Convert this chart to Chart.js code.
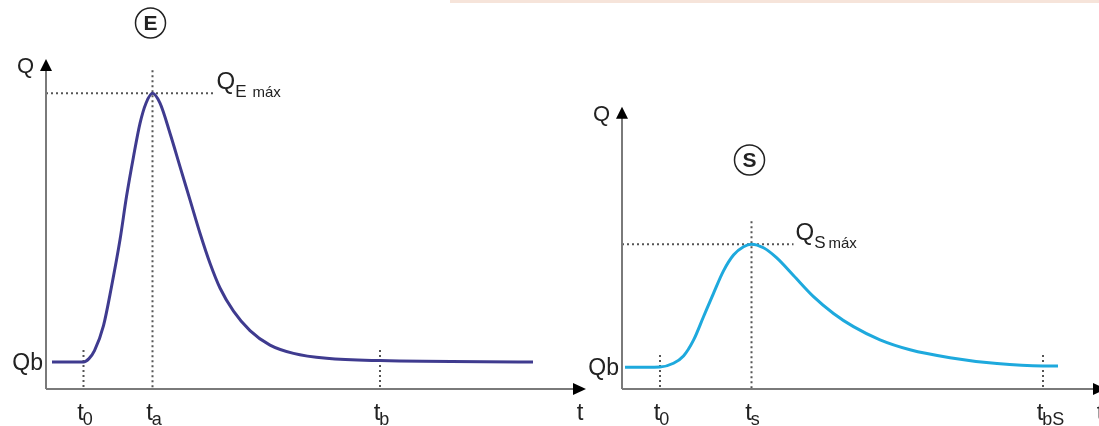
<!DOCTYPE html>
<html>
<head>
<meta charset="utf-8">
<script src="https://cdn.jsdelivr.net/npm/chart.js@4"></script>
<style>
  html, body { margin: 0; padding: 0; background: #fff; overflow: hidden; }
  #wrap { position: relative; width: 1099px; height: 426px; overflow: hidden; }
  #cE { position: absolute; left: 0; top: 0; }
  #cS { position: absolute; left: 560px; top: 0; }
  #band { position: absolute; left: 450px; top: 0; width: 649px; height: 3px; background: #f6e4da; }
</style>
</head>
<body>
<div id="wrap">
  <div id="band"></div>
  <canvas id="cE" width="600" height="426"></canvas>
  <canvas id="cS" width="560" height="426"></canvas>
</div>
<script>
// hidrograma de entrada (E)
let timeE = [1.2, 7.5, 8.6, 9.7, 11.5, 13.1, 14.8, 16.1, 17.5, 18.8, 20.0, 21.3, 22.8, 24.8, 26.8, 28.8, 30.8, 32.8, 34.8, 37.5, 40.8, 44.8, 49.5, 56.1, 66.8, 97.4];
let flowE = [8.2, 8.2, 9.2, 11.6, 19.2, 31.0, 45.2, 58.3, 70.4, 80.5, 86.6, 89.6, 86.6, 77.5, 67.4, 57.3, 47.2, 38.1, 30.6, 23.6, 17.7, 13.3, 10.8, 9.3, 8.6, 8.2];
// hidrograma de salida (S)
let timeS = [0.6, 7.6, 10.3, 12.3, 14.3, 16.3, 18.3, 20.3, 22.3, 24.3, 25.9, 28.3, 30.9, 34.3, 38.3, 42.3, 46.3, 51.6, 57.6, 65.6, 75.0, 84.2, 87.2];
let flowS = [6.6, 6.7, 7.8, 10.0, 14.8, 21.9, 29.0, 35.8, 40.6, 43.1, 43.9, 42.8, 39.8, 34.4, 28.0, 22.9, 18.9, 14.9, 11.9, 9.5, 7.7, 7.0, 7.0];

// marcas del eje t
let ticksE = [7.5, 21.3, 66.8];
let subsE = ['0', 'a', 'b'];
let ticksS = [7.6, 25.9, 84.2];
let subsS = ['0', 's', 'bS'];

const FONT = '"Liberation Sans", Arial, sans-serif';

function makePoints(xs, ys) {
    return xs.map((x, i) => ({ x: x, y: ys[i] }));
}

function txt(ctx, s, x, y, size, align) {
    ctx.font = size + 'px ' + FONT;
    ctx.textAlign = align || 'left';
    ctx.textBaseline = 'alphabetic';
    ctx.fillText(s, x, y);
    return ctx.measureText(s).width;
}

function dotted(ctx, x1, y1, x2, y2) {
    ctx.save();
    ctx.strokeStyle = '#555';
    ctx.lineWidth = 2;
    ctx.setLineDash([2, 3]);
    ctx.beginPath();
    ctx.moveTo(x1, y1);
    ctx.lineTo(x2, y2);
    ctx.stroke();
    ctx.restore();
}

// dibuja ejes, flechas, guías y rótulos
function hydroPlugin(opt) {
    return {
        id: 'hydro',
        beforeDatasetsDraw(chart) {
            const ctx = chart.ctx;
            const xs = chart.scales.x, ys = chart.scales.y;
            const x0 = xs.getPixelForValue(0), y0 = ys.getPixelForValue(0);
            const xTip = xs.getPixelForValue(xs.max);
            const yTip = ys.getPixelForValue(opt.yTop);

            // líneas guía punteadas
            const pk = opt.peakIdx;
            const px = xs.getPixelForValue(opt.time[pk]);
            const py = ys.getPixelForValue(opt.flow[pk]);
            dotted(ctx, x0, py, px + opt.hLen, py);
            opt.ticks.forEach((t, i) => {
                let top;
                if (i === 1) top = py - 23;
                else top = ys.getPixelForValue(opt.qb) - 12;
                dotted(ctx, xs.getPixelForValue(t), top, xs.getPixelForValue(t), y0);
            });

            // ejes
            ctx.save();
            ctx.strokeStyle = '#7a7a7a';
            ctx.lineWidth = 2;
            ctx.beginPath();
            ctx.moveTo(x0, y0);
            ctx.lineTo(xTip - 8, y0);
            ctx.moveTo(x0, y0);
            ctx.lineTo(x0, yTip + 8);
            ctx.stroke();
            ctx.fillStyle = '#000';
            ctx.beginPath();
            ctx.moveTo(xTip - 13, y0 - 6);
            ctx.lineTo(xTip, y0);
            ctx.lineTo(xTip - 13, y0 + 6);
            ctx.closePath();
            ctx.fill();
            ctx.beginPath();
            ctx.moveTo(x0 - 6, yTip + 12);
            ctx.lineTo(x0, yTip);
            ctx.lineTo(x0 + 6, yTip + 12);
            ctx.closePath();
            ctx.fill();
            ctx.restore();
        },
        afterDatasetsDraw(chart) {
            const ctx = chart.ctx;
            const xs = chart.scales.x, ys = chart.scales.y;
            const x0 = xs.getPixelForValue(0), y0 = ys.getPixelForValue(0);
            const xTip = xs.getPixelForValue(xs.max);
            const yTip = ys.getPixelForValue(opt.yTop);
            ctx.save();
            ctx.fillStyle = '#222';

            // rótulos de ejes
            txt(ctx, 'Q', x0 - 12, yTip + 14, 22, 'right');
            txt(ctx, 't', xTip - 6, y0 + 31, 24, 'center');
            txt(ctx, 'Qb', x0 - 3, ys.getPixelForValue(opt.qb) + 8, 23, 'right');

            // marcas t0, ta, tb
            opt.ticks.forEach((t, i) => {
                const tx = xs.getPixelForValue(t);
                const w = txt(ctx, 't', tx - 3, y0 + 31, 24, 'center');
                txt(ctx, opt.subs[i], tx + w / 2 - 4, y0 + 36, 18, 'left');
            });

            // Qmáx
            const pk = opt.peakIdx;
            const px = xs.getPixelForValue(opt.time[pk]);
            const py = ys.getPixelForValue(opt.flow[pk]);
            let lx = px + opt.hLen + 2;
            lx += txt(ctx, 'Q', lx, py - 4, 24, 'left');
            lx += txt(ctx, opt.qSub, lx, py + 4, 17, 'left');
            txt(ctx, opt.qMax, lx + opt.gap, py + 4, 15, 'left');

            // círculo con letra
            const cx = px - 2, cy = opt.circleY;
            ctx.strokeStyle = '#222';
            ctx.lineWidth = 1.5;
            ctx.beginPath();
            ctx.arc(cx, cy, 15, 0, Math.PI * 2);
            ctx.stroke();
            ctx.font = 'bold 21px ' + FONT;
            ctx.textAlign = 'center';
            ctx.textBaseline = 'middle';
            ctx.fillText(opt.letter, cx, cy + 1);
            ctx.restore();
        }
    };
}

function makeChart(id, time, flow, color, xMax, pad, opt) {
    return new Chart(document.getElementById(id), {
        type: 'line',
        data: {
            datasets: [{
                data: makePoints(time, flow),
                borderColor: color,
                borderWidth: 3,
                pointRadius: 0,
                fill: false,
                cubicInterpolationMode: 'monotone',
                clip: false
            }]
        },
        options: {
            responsive: false,
            animation: false,
            layout: { padding: pad },
            plugins: { legend: { display: false }, tooltip: { enabled: false } },
            scales: {
                x: { type: 'linear', min: 0, max: xMax, display: false },
                y: { type: 'linear', min: 0, max: 100, display: false }
            }
        },
        plugins: [hydroPlugin(opt)]
    });
}

makeChart('cE', timeE, flowE, '#3f3b8f', 108,
    { left: 46, right: 14, top: 59, bottom: 37 },
    { time: timeE, flow: flowE, peakIdx: 11, ticks: ticksE, subs: subsE, qb: 8.2,
      yTop: 100, hLen: 62, qSub: 'E', qMax: 'máx', gap: 6, letter: 'E', circleY: 23 });

makeChart('cS', timeS, flowS, '#1ea9dd', 96.8,
    { left: 62, right: 14, top: 59, bottom: 37 },
    { time: timeS, flow: flowS, peakIdx: 10, ticks: ticksS, subs: subsS, qb: 6.7,
      yTop: 85.5, hLen: 42, qSub: 'S', qMax: 'máx', gap: 3, letter: 'S', circleY: 160 });
</script>
</body>
</html>
